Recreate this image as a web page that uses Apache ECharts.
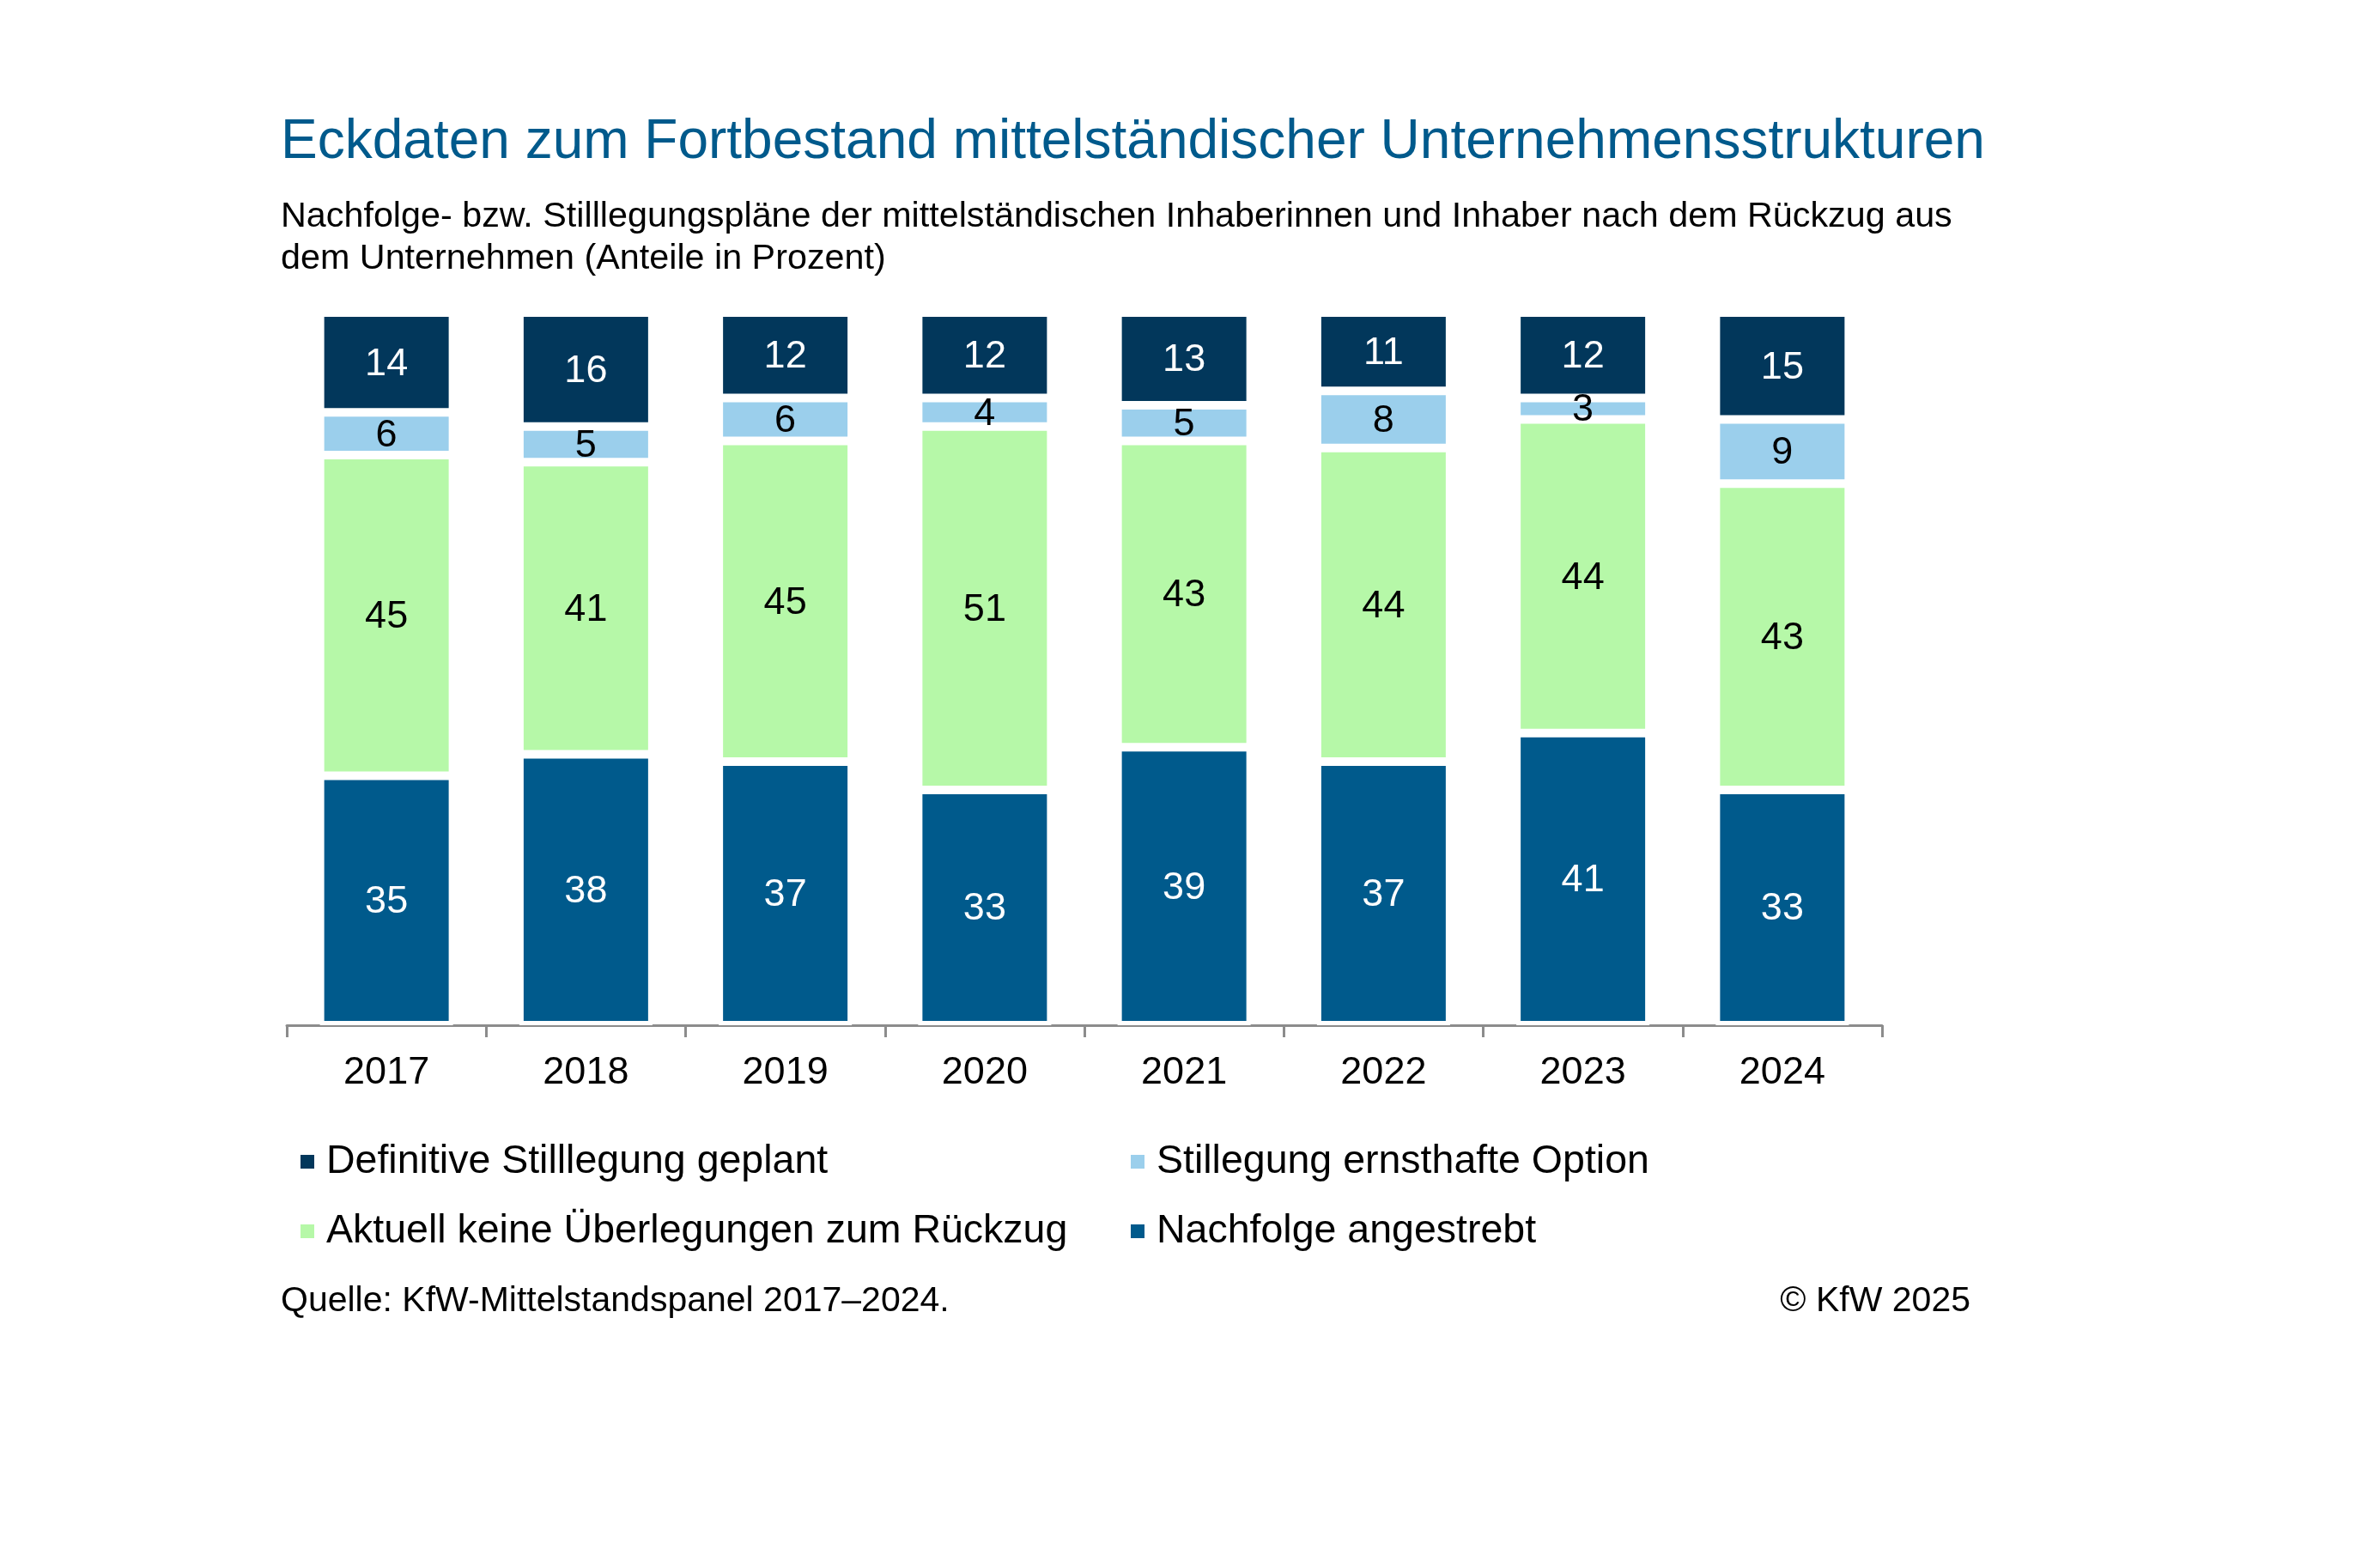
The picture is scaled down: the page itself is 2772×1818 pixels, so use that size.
<!DOCTYPE html>
<html>
<head>
<meta charset="utf-8">
<script src="https://cdn.jsdelivr.net/npm/echarts@6/dist/echarts.min.js"></script>
<style>
html,body{margin:0;padding:0;background:#fff;}
#chart{width:2772px;height:1818px;}
</style>
</head>
<body>
<div id="chart"></div>
<script>
const categories = ['2017','2018','2019','2020','2021','2022','2023','2024'];
const nachfolge = [35, 38, 37, 33, 39, 37, 41, 33];
const keineUeberlegungen = [45, 41, 45, 51, 43, 44, 44, 43];
const stilllegungOption = [6, 5, 6, 4, 5, 8, 3, 9];
const definitiveStilllegung = [14, 16, 12, 12, 13, 11, 12, 15];

const seriesNames = {
  def: 'Definitive Stilllegung geplant',
  opt: 'Stillegung ernsthafte Option',
  keine: 'Aktuell keine Überlegungen zum Rückzug',
  nach: 'Nachfolge angestrebt'
};

const FONT = '"Liberation Sans", Arial, sans-serif';
const chart = echarts.init(document.getElementById('chart'));

function barSeries(name, data, color, labelColor) {
  return {
    name: name,
    type: 'bar',
    stack: 'total',
    data: data,
    barWidth: 155,
    itemStyle: { color: color, borderColor: '#ffffff', borderWidth: 5 },
    label: {
      show: true,
      position: 'inside',
      color: labelColor,
      fontFamily: FONT,
      fontSize: 45,
      offset: [0, 2]
    },
    emphasis: { disabled: true }
  };
}

chart.setOption({
  backgroundColor: '#ffffff',
  animation: false,
  title: [
    {
      text: 'Eckdaten zum Fortbestand mittelständischer Unternehmensstrukturen',
      left: 327, top: 128, padding: 0,
      textStyle: { fontFamily: FONT, fontSize: 64, fontWeight: 'normal', color: '#005a8c', lineHeight: 76 }
    },
    {
      text: 'Nachfolge- bzw. Stilllegungspläne der mittelständischen Inhaberinnen und Inhaber nach dem Rückzug aus\ndem Unternehmen (Anteile in Prozent)',
      left: 327, top: 228, padding: 0,
      textStyle: { fontFamily: FONT, fontSize: 41.3, fontWeight: 'normal', color: '#000000', lineHeight: 49 }
    },
    {
      text: 'Quelle: KfW-Mittelstandspanel 2017–2024.',
      left: 327, top: 1492, padding: 0,
      textStyle: { fontFamily: FONT, fontSize: 41, fontWeight: 'normal', color: '#000000', lineHeight: 48 }
    },
    {
      text: '© KfW 2025',
      right: 477, top: 1492, padding: 0,
      textStyle: { fontFamily: FONT, fontSize: 41, fontWeight: 'normal', color: '#000000', lineHeight: 48 }
    }
  ],
  legend: [
    {
      data: [seriesNames.def, seriesNames.keine],
      orient: 'vertical',
      left: 348, top: 1328, padding: 0,
      itemWidth: 18, itemHeight: 18, itemGap: 31,
      icon: 'rect',
      selectedMode: false,
      textStyle: { fontFamily: FONT, fontSize: 46.5, color: '#000000', lineHeight: 50, padding: [0, 0, 0, 8] }
    },
    {
      data: [seriesNames.opt, seriesNames.nach],
      orient: 'vertical',
      left: 1315, top: 1328, padding: 0,
      itemWidth: 18, itemHeight: 18, itemGap: 31,
      icon: 'rect',
      selectedMode: false,
      textStyle: { fontFamily: FONT, fontSize: 46.5, color: '#000000', lineHeight: 50, padding: [0, 0, 0, 8] }
    }
  ],
  grid: { left: 334, right: 580, top: 364, bottom: 624, containLabel: false },
  xAxis: {
    type: 'category',
    data: categories,
    axisLine: { show: true, lineStyle: { color: '#8c8c8c', width: 3 } },
    axisTick: { show: true, length: 14, alignWithLabel: false, lineStyle: { color: '#8c8c8c', width: 3 } },
    axisLabel: { fontFamily: FONT, fontSize: 45, color: '#000000', margin: 33 }
  },
  yAxis: {
    type: 'value',
    min: 0, max: 100,
    show: false,
    splitLine: { show: false }
  },
  series: [
    barSeries(seriesNames.nach, nachfolge, '#005a8c', '#ffffff'),
    barSeries(seriesNames.keine, keineUeberlegungen, '#b6f8a8', '#000000'),
    barSeries(seriesNames.opt, stilllegungOption, '#9bcfec', '#000000'),
    barSeries(seriesNames.def, definitiveStilllegung, '#02375b', '#ffffff')
  ]
});
</script>
</body>
</html>
